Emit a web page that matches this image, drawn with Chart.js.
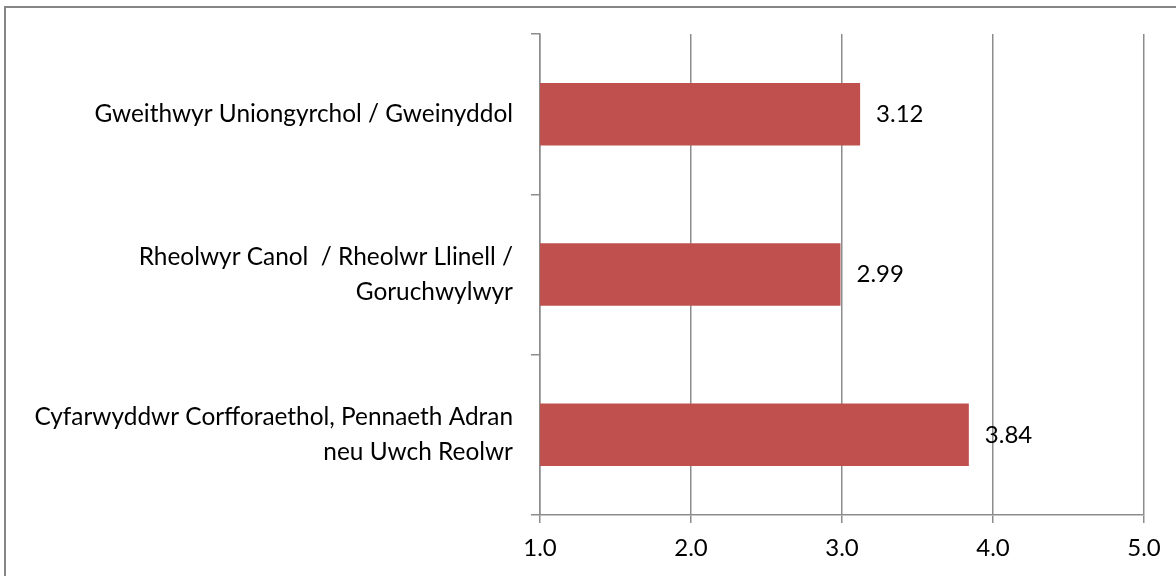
<!DOCTYPE html>
<html lang="cy">
<head>
    <meta charset="UTF-8">
    <title>Sgôr cyfartalog yn ôl swydd</title>
    <script src="https://cdn.jsdelivr.net/npm/chart.js@4/dist/chart.umd.min.js"></script>
    <style>
        body {
            margin: 0;
            background: #ffffff;
            overflow: hidden;
        }

        .frame {
            position: absolute;
            left: 4px;
            top: 6px;
            width: 1200px;
            height: 600px;
            border-left: 2px solid #868686;
            border-top: 2px solid #868686;
        }

        .chart-wrap {
            position: absolute;
            left: 0;
            top: 0;
            width: 1176px;
            height: 576px;
        }
    </style>
</head>
<body>
    <div class="frame"></div>
    <div class="chart-wrap">
        <canvas id="barChart" width="1176" height="576"></canvas>
    </div>

    <script>
        // categories (top to bottom) and mean scores
        const categories = [
            'Gweithwyr Uniongyrchol / Gweinyddol',
            ['Rheolwyr Canol  / Rheolwr Llinell /', 'Goruchwylwyr'],
            ['Cyfarwyddwr Corfforaethol, Pennaeth Adran', 'neu Uwch Reolwr']
        ];
        const scores = [3.12, 2.99, 3.84];
        const axisTicks = [1, 2, 3, 4, 5];

        const fontFamily = "Lato, 'Open Sans', sans-serif";
        const gridGrey = '#8c8c8c';

        // value labels at the end of each bar
        const valueLabels = {
            id: 'valueLabels',
            afterDatasetsDraw(chart) {
                const ctx = chart.ctx;
                const meta = chart.getDatasetMeta(0);
                ctx.save();
                ctx.font = '24px ' + fontFamily;
                ctx.fillStyle = '#000000';
                ctx.textAlign = 'left';
                ctx.textBaseline = 'middle';
                meta.data.forEach((bar, i) => {
                    ctx.fillText(scores[i].toFixed(2), bar.x + 16, bar.y);
                });
                ctx.restore();
            }
        };

        const ctx = document.getElementById('barChart').getContext('2d');
        new Chart(ctx, {
            type: 'bar',
            data: {
                labels: categories,
                datasets: [{
                    data: scores,
                    backgroundColor: '#c0504d',
                    borderWidth: 0,
                    barPercentage: 0.39,
                    categoryPercentage: 1
                }]
            },
            plugins: [valueLabels],
            options: {
                indexAxis: 'y',
                responsive: false,
                animation: false,
                layout: {
                    padding: { top: 34, right: 32, bottom: 11, left: 0 }
                },
                plugins: {
                    legend: { display: false },
                    tooltip: { enabled: false }
                },
                scales: {
                    x: {
                        min: axisTicks[0],
                        max: axisTicks[axisTicks.length - 1],
                        afterBuildTicks(scale) {
                            scale.ticks = axisTicks.map(v => ({ value: v }));
                        },
                        afterFit(scale) {
                            scale.height = 50;
                        },
                        grid: {
                            color: gridGrey,
                            lineWidth: 1.5,
                            tickLength: 8
                        },
                        border: { color: gridGrey, width: 1.5 },
                        ticks: {
                            color: '#000000',
                            padding: 11,
                            maxRotation: 0,
                            font: { family: fontFamily, size: 24 },
                            callback: v => Number(v).toFixed(1)
                        }
                    },
                    y: {
                        afterFit(scale) {
                            scale.width = 540;
                            // labels must not push the plot area in
                            scale.paddingTop = 0;
                            scale.paddingBottom = 0;
                        },
                        grid: {
                            drawOnChartArea: false,
                            color: gridGrey,
                            lineWidth: 1.5,
                            tickLength: 9
                        },
                        border: { color: gridGrey, width: 1.5 },
                        ticks: {
                            color: '#000000',
                            padding: 18,
                            font: { family: fontFamily, size: 24.4, lineHeight: 1.45 }
                        }
                    }
                }
            }
        });
    </script>
</body>
</html>
